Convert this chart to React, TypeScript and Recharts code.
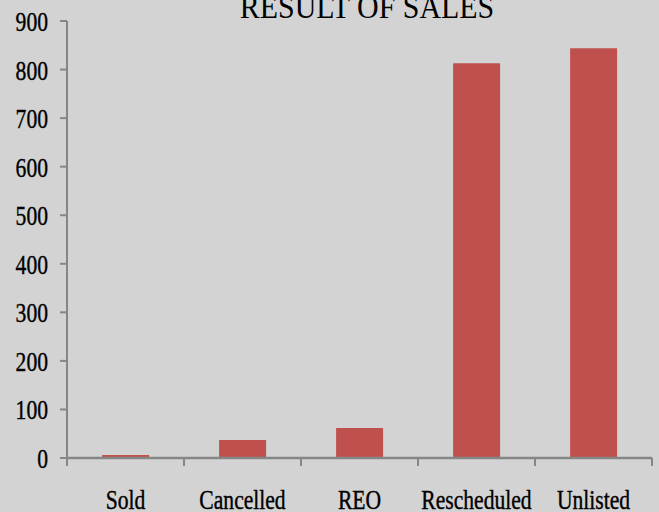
import React from 'react';
import { BarChart, Bar, XAxis, YAxis } from 'recharts';

const categories = ['Sold', 'Cancelled', 'REO', 'Rescheduled', 'Unlisted'];
const salesValues = [6, 37, 62, 813, 844];
const yTicks = [0, 100, 200, 300, 400, 500, 600, 700, 800, 900];

const data = categories.map((name, i) => ({ name, value: salesValues[i] }));

const W = 659;
const H = 512;
const LEFT = 67;
const RIGHT_M = 7;
const TOP = 21;
const XAXIS_H = 54;
const FONT = '"Liberation Serif", "Times New Roman", serif';
const AXIS_COLOR = '#868686';

const band = (W - LEFT - RIGHT_M) / categories.length;

const XTick = (props: any) => {
  const { x, payload, index } = props;
  const axisY = H - XAXIS_H;
  const left = x - band / 2;
  const isLast = index === categories.length - 1;
  return (
    <g>
      <line x1={left} x2={left} y1={axisY} y2={axisY + 8} stroke={AXIS_COLOR} strokeWidth={2} />
      {isLast && (
        <line x1={x + band / 2} x2={x + band / 2} y1={axisY} y2={axisY + 8} stroke={AXIS_COLOR} strokeWidth={2} />
      )}
      <text
        transform={`translate(${x},${axisY + 51}) scale(0.8,1)`}
        textAnchor="middle"
        fontFamily={FONT}
        fontSize={27}
        fill="#000"
        stroke="#000"
        strokeWidth={0.4}
      >
        {payload.value}
      </text>
    </g>
  );
};

const YTick = (props: any) => {
  const { y, payload } = props;
  return (
    <text
      transform={`translate(${48},${y + 10}) scale(0.8,1)`}
      textAnchor="end"
      fontFamily={FONT}
      fontSize={27}
      fill="#000"
      stroke="#000"
      strokeWidth={0.4}
    >
      {payload.value}
    </text>
  );
};

export default function App() {
  return (
    <div style={{ position: 'absolute', left: 0, top: 0, width: W, height: H, background: '#d3d3d3', overflow: 'hidden' }}>
      <BarChart
        width={W}
        height={H}
        data={data}
        margin={{ top: TOP, right: RIGHT_M, left: 0, bottom: 0 }}
        barCategoryGap="30%"
      >
        <XAxis
          dataKey="name"
          height={XAXIS_H}
          axisLine={{ stroke: AXIS_COLOR, strokeWidth: 2.5 }}
          tickLine={false}
          tick={<XTick />}
          interval={0}
        />
        <YAxis
          width={LEFT}
          domain={[0, 900]}
          ticks={yTicks}
          interval={0}
          axisLine={{ stroke: AXIS_COLOR, strokeWidth: 2 }}
          tickLine={{ stroke: AXIS_COLOR, strokeWidth: 2 }}
          tickSize={7}
          tick={<YTick />}
        />
        <Bar dataKey="value" fill="#c0504d" isAnimationActive={false} />
      </BarChart>
      <svg width={W} height={40} style={{ position: 'absolute', left: 0, top: 0 }}>
        <text
          transform="translate(367,18) scale(0.88,1)"
          textAnchor="middle"
          fontFamily={FONT}
          fontSize={34}
          fill="#000"
        >
          RESULT OF SALES
        </text>
      </svg>
    </div>
  );
}
